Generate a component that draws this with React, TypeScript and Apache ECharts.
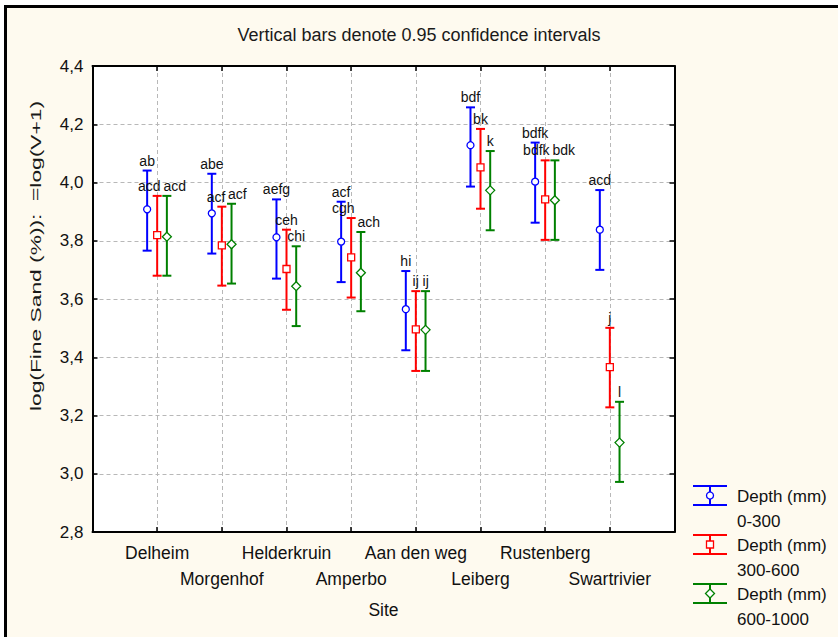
import React, { useEffect, useRef } from 'react';
import * as echarts from 'echarts';

// ---------- data ----------
const sites = ['Delheim', 'Morgenhof', 'Helderkruin', 'Amperbo', 'Aan den weg', 'Leiberg', 'Rustenberg', 'Swartrivier'];
const depthLabels = ['0-300', '300-600', '600-1000'];

const mean0300 = [3.908, 3.894, 3.812, 3.797, 3.565, 4.128, 4.003, 3.838];
const low0300 = [3.766, 3.756, 3.670, 3.658, 3.424, 3.986, 3.862, 3.700];
const high0300 = [4.041, 4.030, 3.942, 3.934, 3.696, 4.258, 4.137, 3.974];
const letters0300 = ['ab', 'abe', 'aefg', 'acf', 'hi', 'bdf', 'bdfk', 'acd'];

const mean300600 = [3.819, 3.784, 3.703, 3.743, 3.496, 4.052, 3.942, 3.366];
const low300600 = [3.680, 3.646, 3.563, 3.605, 3.353, 3.910, 3.803, 3.228];
const high300600 = [3.954, 3.917, 3.838, 3.878, 3.627, 4.184, 4.076, 3.501];
const letters300600 = ['acd', 'acf', 'ceh', 'cgh', 'ij', 'bk', 'bdfk', 'j'];

const mean6001000 = [3.814, 3.788, 3.644, 3.690, 3.494, 3.973, 3.939, 3.107];
const low6001000 = [3.680, 3.653, 3.507, 3.558, 3.353, 3.836, 3.803, 2.972];
const high6001000 = [3.954, 3.927, 3.781, 3.830, 3.627, 4.108, 4.076, 3.247];
const letters6001000 = ['acd', 'acf', 'chi', 'ach', 'ij', 'k', 'bdk', 'l'];

const yMin = 2.8;
const yMax = 4.4;
const yStep = 0.2;

const titleText = 'Vertical bars denote 0.95 confidence intervals';
const yAxisTitle = 'log(Fine Sand (%)):  =log(V+1)';
const xAxisTitle = 'Site';

// ---------- styling ----------
const FONT = '"Liberation Sans", Arial, Helvetica, sans-serif';
const colors = ['#0000ff', '#ff0000', '#008000'];
const markerKinds = ['circle', 'square', 'diamond'];
const xShift = [-0.155, 0, 0.15];
const LABEL_SIZE = 14;

const groups = [
  { mean: mean0300, low: low0300, high: high0300, letters: letters0300 },
  { mean: mean300600, low: low300600, high: high300600, letters: letters300600 },
  { mean: mean6001000, low: low6001000, high: high6001000, letters: letters6001000 },
];

function textWidth(s: string, size: number) {
  let w = 0;
  for (const ch of s) {
    if ('ijlft'.includes(ch)) w += 0.25;
    else if ('ck'.includes(ch)) w += 0.5;
    else w += 0.556;
  }
  return w * size;
}

function markerEl(kind: string, x: number, y: number, color: string) {
  const style = { fill: '#ffffff', stroke: color, lineWidth: 1.3 };
  if (kind === 'circle') return { type: 'circle', shape: { cx: x, cy: y, r: 3.5 }, style };
  if (kind === 'square') return { type: 'rect', shape: { x: x - 3.5, y: y - 3.5, width: 7, height: 7 }, style };
  return {
    type: 'polygon',
    shape: { points: [[x, y - 4.5], [x + 4.5, y], [x, y + 4.5], [x - 4.5, y]] },
    style,
  };
}

function makeRenderItem(s: number) {
  return (params: any, api: any) => {
    const i = params.dataIndex;
    const cat = api.value(0);
    const xv = cat + xShift[s];
    const pMean = api.coord([xv, api.value(1)]);
    const pLow = api.coord([xv, api.value(2)]);
    const pHigh = api.coord([xv, api.value(3)]);
    const x = pMean[0];
    const color = colors[s];

    // label collision avoidance with neighbouring series in same category
    const tops = groups.map((g, k) => api.coord([cat + xShift[k], g.high[i]]));
    const widths = groups.map((g) => textWidth(g.letters[i], LABEL_SIZE));
    let dx = 0;
    const overlap = (a: number, b: number) => {
      if (Math.abs(tops[a][1] - tops[b][1]) >= 14) return 0;
      const need = (widths[a] + widths[b]) / 2 + 3;
      const have = tops[b][0] - tops[a][0];
      return Math.max(0, need - have);
    };
    if (s > 0) dx += overlap(s - 1, s) / 2;
    if (s < groups.length - 1) dx -= overlap(s, s + 1) / 2;

    const lw = 2;
    const capHalf = 4.5;
    return {
      type: 'group',
      children: [
        { type: 'line', shape: { x1: x, y1: pLow[1], x2: x, y2: pHigh[1] }, style: { stroke: color, lineWidth: lw } },
        { type: 'line', shape: { x1: x - capHalf, y1: pHigh[1], x2: x + capHalf, y2: pHigh[1] }, style: { stroke: color, lineWidth: lw } },
        { type: 'line', shape: { x1: x - capHalf, y1: pLow[1], x2: x + capHalf, y2: pLow[1] }, style: { stroke: color, lineWidth: lw } },
        markerEl(markerKinds[s], x, pMean[1], color),
        {
          type: 'text',
          x: x + dx,
          y: pHigh[1] - 3,
          style: {
            text: groups[s].letters[i],
            fill: '#111111',
            fontSize: LABEL_SIZE,
            fontFamily: FONT,
            align: 'center',
            verticalAlign: 'bottom',
          },
        },
      ],
    };
  };
}

function legendGraphics() {
  const els: any[] = [];
  depthLabels.forEach((d, s) => {
    const top = 486 + 49 * s;
    const bottom = top + 19;
    const cx = 710;
    const color = colors[s];
    els.push({ type: 'line', shape: { x1: 693, y1: top, x2: 727, y2: top }, style: { stroke: color, lineWidth: 2 } });
    els.push({ type: 'line', shape: { x1: 693, y1: bottom, x2: 727, y2: bottom }, style: { stroke: color, lineWidth: 2 } });
    els.push({ type: 'line', shape: { x1: cx, y1: top, x2: cx, y2: bottom }, style: { stroke: color, lineWidth: 2 } });
    els.push(markerEl(markerKinds[s], cx, (top + bottom) / 2, color));
    els.push({
      type: 'text', x: 737, y: top + 10,
      style: { text: 'Depth (mm)', fill: '#111111', fontSize: 17, fontFamily: FONT, align: 'left', verticalAlign: 'middle' },
    });
    els.push({
      type: 'text', x: 737, y: top + 35,
      style: { text: d, fill: '#111111', fontSize: 17, fontFamily: FONT, align: 'left', verticalAlign: 'middle' },
    });
  });
  return els;
}

export default function App() {
  const ref = useRef<HTMLDivElement>(null);

  useEffect(() => {
    if (!ref.current) return;
    const chart = echarts.init(ref.current, null, { renderer: 'svg' });

    const axisLine = { show: true, onZero: false, lineStyle: { color: '#000', width: 2 } };
    const axisTick = { show: true, inside: true, length: 5, lineStyle: { color: '#000', width: 1.5 } };
    const splitLine = { show: true, lineStyle: { color: '#b8b8b8', width: 1, type: [4, 3] } };

    const option: any = {
      animation: false,
      backgroundColor: '#fefaef',
      title: {
        text: titleText,
        left: 'center',
        top: 20,
        padding: [5, 0, 5, 19],
        textStyle: { fontSize: 18, fontWeight: 'normal', color: '#1a1a1a', fontFamily: FONT, lineHeight: 20 },
      },
      grid: {
        left: 92.5, top: 66, width: 582, height: 466,
        show: true, backgroundColor: '#ffffff', borderWidth: 0,
        containLabel: false,
      },
      xAxis: [
        {
          type: 'value', min: 0, max: sites.length + 1, interval: 1, position: 'bottom',
          axisLine, axisTick, splitLine,
          axisLabel: {
            show: true, margin: 8, fontSize: 17.5, lineHeight: 26, color: '#111111', fontFamily: FONT,
            formatter: (v: number) => {
              const k = Math.round(v);
              if (k < 1 || k > sites.length) return '';
              return k % 2 === 1 ? sites[k - 1] : '\n' + sites[k - 1];
            },
          },
          name: xAxisTitle, nameLocation: 'middle', nameGap: 69,
          nameTextStyle: { fontSize: 17.5, color: '#111111', fontFamily: FONT },
        },
        {
          type: 'value', min: 0, max: sites.length + 1, interval: 1, position: 'top',
          axisLine, axisTick, splitLine: { show: false }, axisLabel: { show: false },
        },
      ],
      yAxis: [
        {
          type: 'value', min: yMin, max: yMax, interval: yStep, position: 'left',
          axisLine, axisTick, splitLine,
          axisLabel: {
            show: true, margin: 9, fontSize: 17, color: '#111111', fontFamily: FONT,
            formatter: (v: number) => v.toFixed(1).replace('.', ','),
          },
        },
        {
          type: 'value', min: yMin, max: yMax, interval: yStep, position: 'right',
          axisLine, axisTick, splitLine: { show: false }, axisLabel: { show: false },
        },
      ],
      series: groups.map((g, s) => ({
        type: 'custom',
        name: 'Depth (mm) ' + depthLabels[s],
        xAxisIndex: 0,
        yAxisIndex: 0,
        clip: false,
        renderItem: makeRenderItem(s),
        encode: { x: 0, y: [1, 2, 3] },
        data: sites.map((_, i) => [i + 1, g.mean[i], g.low[i], g.high[i]]),
      })),
      graphic: [
        { type: 'rect', shape: { x: 0, y: 0, width: 4, height: 637 }, style: { fill: '#ffffff' }, silent: true },
        { type: 'rect', shape: { x: 0, y: 0, width: 838, height: 5 }, style: { fill: '#ffffff' }, silent: true },
        { type: 'rect', shape: { x: 4, y: 5, width: 3, height: 632 }, style: { fill: '#000000' }, silent: true },
        { type: 'rect', shape: { x: 4, y: 5, width: 834, height: 3 }, style: { fill: '#000000' }, silent: true },
        {
          type: 'text', x: 36, y: 256, rotation: Math.PI / 2, scaleX: 1.52,
          style: { text: yAxisTitle, fill: '#1a1a1a', fontSize: 15, fontFamily: FONT, align: 'center', verticalAlign: 'middle' },
        },
        ...legendGraphics(),
      ],
    };

    chart.setOption(option);
    return () => chart.dispose();
  }, []);

  return (
    <div
      ref={ref}
      style={{ position: 'absolute', left: 0, top: 0, width: 838, height: 637 }}
    />
  );
}
